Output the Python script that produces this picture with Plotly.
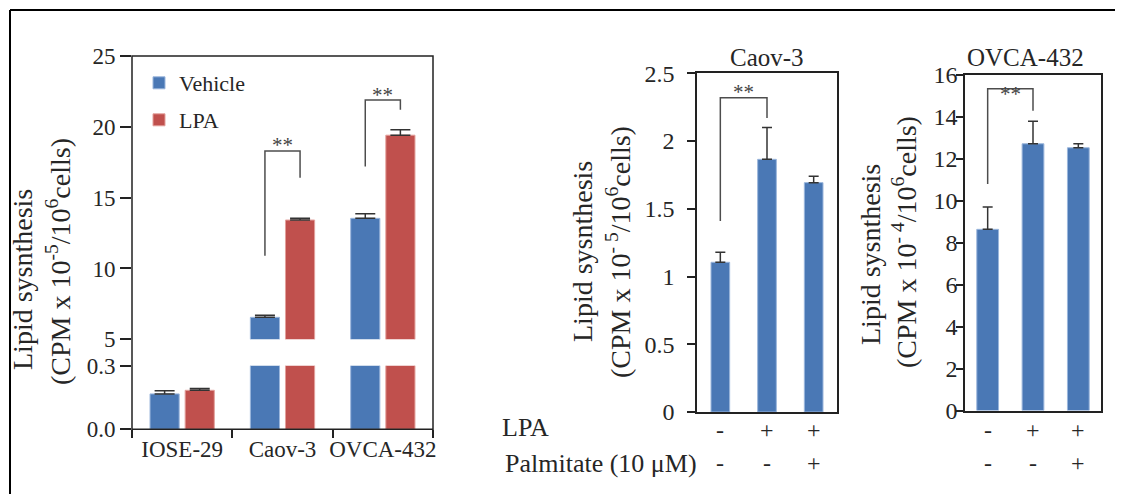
import plotly.graph_objects as go

# page is 1123x502; the html body adds an 8px margin, so the figure is drawn
# 16px smaller and all pixel positions are measured from the page corner.
PAGE_W, PAGE_H = 1123, 502
OFF = 8
FW, FH = PAGE_W - 2 * OFF, PAGE_H - 2 * OFF
FONT = "Liberation Serif"
TXT = "#262626"
LINE = "#222222"
BLUE = "#4a78b5"
RED = "#c0504d"

# ---------------- data ----------------
cell_lines = ["IOSE-29", "Caov-3", "OVCA-432"]
vehicle_vals = [0.167, 6.55, 13.54]
vehicle_err = [0.015, 0.14, 0.33]
lpa_vals = [0.184, 13.42, 19.41]
lpa_err = [0.008, 0.12, 0.38]

treatments = ["t1", "t2", "t3"]
lpa_signs = ["-", "+", "+"]
palm_signs = ["-", "-", "+"]
caov_vals = [1.105, 1.865, 1.693]
caov_err = [0.075, 0.235, 0.047]
ovca_vals = [8.64, 12.72, 12.53]
ovca_err = [1.06, 1.08, 0.19]

upper_ticks = [5, 10, 15, 20, 25]
lower_ticks = [0.0, 0.3]
lower_ticklabels = ["0.0", "0.3"]
caov_ticks = [0, 0.5, 1, 1.5, 2, 2.5]
caov_ticklabels = ["0", "0.5", "1", "1.5", "2", "2.5"]
ovca_ticks = [0, 2, 4, 6, 8, 10, 12, 14, 16]

# significance brackets: left-leg bottom, top, right-leg bottom, star level
left_brackets = [(1, 10.9, 18.3, 16.4, 18.70), (2, 17.2, 21.9, 21.2, 22.27)]
caov_bracket = (0, 1, 1.41, 2.32, 2.17, 2.36)
ovca_bracket = (0, 1, 10.8, 15.35, 14.3, 15.1)


def px(x):
    return (x - OFF) / FW


def py(y):
    return 1 - (y - OFF) / FH


BARGAP, GROUPGAP = 0.30, 0.17
half_off = (1 - BARGAP) / 4  # offset of grouped bar centres

fig = go.Figure()

err_style = dict(type="data", symmetric=False, color="#333333", thickness=1.5)

for yax, show in (("y", False), ("y2", True)):
    fig.add_trace(go.Bar(
        x=cell_lines, y=vehicle_vals, name="Vehicle", xaxis="x", yaxis=yax,
        marker=dict(color=BLUE, line=dict(color="#9bb6dc", width=1)),
        error_y=dict(array=vehicle_err, arrayminus=[0] * 3, width=10, **err_style),
        showlegend=show, legend="legend"))
    fig.add_trace(go.Bar(
        x=cell_lines, y=lpa_vals, name="LPA", xaxis="x", yaxis=yax,
        marker=dict(color=RED, line=dict(color="#e3a09c", width=1)),
        error_y=dict(array=lpa_err, arrayminus=[0] * 3, width=10, **err_style),
        showlegend=show, legend="legend2"))

fig.add_trace(go.Bar(
    x=treatments, y=caov_vals, xaxis="x3", yaxis="y3", width=0.4, showlegend=False,
    marker=dict(color=BLUE, line=dict(color="#9bb6dc", width=1)),
    error_y=dict(array=caov_err, arrayminus=[0] * 3, width=5, **err_style)))
fig.add_trace(go.Bar(
    x=treatments, y=ovca_vals, xaxis="x4", yaxis="y4", width=0.48, showlegend=False,
    marker=dict(color=BLUE, line=dict(color="#9bb6dc", width=1)),
    error_y=dict(array=ovca_err, arrayminus=[0] * 3, width=5, **err_style)))

tickfont = dict(family=FONT, size=23, color=TXT)
tickfont_r = dict(family=FONT, size=24, color=TXT)
common_y = dict(showgrid=False, zeroline=False, ticks="outside", tickcolor=LINE,
                tickwidth=1.5, automargin=False)

# panel geometry (page pixels)
L_x0, L_x1 = 132, 433
L_low_bot, L_low_top = 429.3, 365.7
L_up_bot, L_up_top = 339.3, 56
C_x0, C_x1, C_bot, C_top = 697, 837, 412, 73.3
O_x0, O_x1, O_bot, O_top = 965, 1101, 410.5, 75

fig.update_layout(
    template="none",
    width=FW, height=FH, margin=dict(l=0, r=0, t=0, b=0, autoexpand=False),
    paper_bgcolor="white", plot_bgcolor="white",
    barmode="group", bargap=BARGAP, bargroupgap=GROUPGAP,
    font=dict(family=FONT, color=TXT),
    xaxis=dict(domain=[px(L_x0), px(L_x1)], anchor="y", showgrid=False,
               ticks="outside", tickson="boundaries", ticklen=8, tickwidth=1.5,
               tickcolor=LINE, tickfont=tickfont, showline=False, tickangle=0,
               ticklabelstandoff=4, automargin=False),
    yaxis=dict(domain=[py(L_low_bot), py(L_low_top)], anchor="x", range=[0, 0.3],
               tickvals=lower_ticks, ticktext=lower_ticklabels, ticklen=11,
               tickfont=tickfont, **common_y),
    yaxis2=dict(domain=[py(L_up_bot), py(L_up_top)], anchor="x", range=[5, 25],
                tickvals=upper_ticks, ticklen=11, tickfont=tickfont, **common_y),
    xaxis3=dict(domain=[px(C_x0), px(C_x1)], anchor="y3", showgrid=False,
                showticklabels=False, ticks="", showline=True, mirror=True,
                linecolor=LINE, linewidth=1.5, automargin=False),
    yaxis3=dict(domain=[py(C_bot), py(C_top)], anchor="x3", range=[0, 2.5],
                tickvals=caov_ticks, ticktext=caov_ticklabels, ticklen=8,
                ticklabelstandoff=8, showline=True, mirror=True, linecolor=LINE,
                linewidth=1.5, tickfont=tickfont_r, **common_y),
    xaxis4=dict(domain=[px(O_x0), px(O_x1)], anchor="y4", showgrid=False,
                showticklabels=False, ticks="", showline=True, mirror=True,
                linecolor=LINE, linewidth=1.5, automargin=False),
    yaxis4=dict(domain=[py(O_bot), py(O_top)], anchor="x4", range=[0, 16],
                tickvals=ovca_ticks, ticklen=7, ticklabelstandoff=-6, showline=True,
                mirror=True, linecolor=LINE, linewidth=1.5, tickfont=tickfont_r,
                **common_y),
    legend=dict(x=px(139), y=py(83), xanchor="left", yanchor="middle",
                bgcolor="rgba(0,0,0,0)", font=dict(family=FONT, size=22, color=TXT)),
    legend2=dict(x=px(139), y=py(120), xanchor="left", yanchor="middle",
                 bgcolor="rgba(0,0,0,0)", font=dict(family=FONT, size=22, color=TXT)),
)

shapes = []
# left panel frame (continuous through the axis break)
shapes.append(dict(type="rect", xref="x domain", yref="paper", x0=0, x1=1,
                   y0=py(L_low_bot), y1=py(L_up_top), line=dict(color=LINE, width=1.5)))
# outer border (left and top)
shapes.append(dict(type="line", xref="paper", yref="paper", x0=px(10), x1=px(10),
                   y0=py(10), y1=0, line=dict(color="black", width=2)))
shapes.append(dict(type="line", xref="paper", yref="paper", x0=px(10), x1=1,
                   y0=py(10), y1=py(10), line=dict(color="black", width=2)))

BR = dict(color="#4d4d4d", width=1.5)
annotations = []


def bracket(xl, xr, yl, top, yr, xref, yref, ystar, xstar):
    shapes.append(dict(type="path", xref=xref, yref=yref, line=BR,
                       path=f"M {xl},{yl} L {xl},{top} L {xr},{top} L {xr},{yr}"))
    annotations.append(dict(x=xstar, y=ystar, xref=xref, yref=yref, text="**",
                            showarrow=False, xanchor="center", yanchor="middle",
                            font=dict(family=FONT, size=21, color="#444444")))


for ci, yl, top, yr, ys in left_brackets:
    bracket(ci - half_off, ci + half_off, yl, top, yr, "x", "y2", ys, ci)
i0, i1, yl, top, yr, ys = caov_bracket
bracket(i0, i1, yl, top, yr, "x3", "y3", ys, (i0 + i1) / 2)
i0, i1, yl, top, yr, ys = ovca_bracket
bracket(i0, i1, yl, top, yr, "x4", "y4", ys, (i0 + i1) / 2)

# y axis titles (two lines each)
lab_font = dict(family=FONT, size=28, color=TXT)
for xline1, xline2, yc1, yc2, exp in ((22, 59, 280, 262, "-5"),
                                      (582, 618, 252, 252, "- 5"),
                                      (871, 905, 255, 242, "- 4")):
    annotations.append(dict(x=px(xline1), y=py(yc1), xref="paper", yref="paper",
                            text="Lipid sysnthesis", textangle=-90, showarrow=False,
                            xanchor="center", yanchor="middle", font=lab_font))
    annotations.append(dict(x=px(xline2), y=py(yc2), xref="paper", yref="paper",
                            text=f"(CPM x 10<sup>{exp}</sup>/10<sup>6</sup>cells)",
                            textangle=-90, showarrow=False,
                            xanchor="center", yanchor="middle", font=lab_font))

# panel titles
title_font = dict(family=FONT, size=25, color=TXT)
annotations.append(dict(x=px(767), y=py(58), xref="paper", yref="paper", text="Caov-3",
                        showarrow=False, xanchor="center", yanchor="middle",
                        font=title_font))
annotations.append(dict(x=px(1025), y=py(58), xref="paper", yref="paper",
                        text="OVCA-432", showarrow=False, xanchor="center",
                        yanchor="middle", font=title_font))

# treatment rows
row_font = dict(family=FONT, size=26, color=TXT)
sign_font = dict(family=FONT, size=24, color=TXT)
annotations.append(dict(x=px(500), y=py(427), xref="paper", yref="paper", text="LPA",
                        showarrow=False, xanchor="left", yanchor="middle",
                        font=row_font))
annotations.append(dict(x=px(503), y=py(463), xref="paper", yref="paper",
                        text="Palmitate (10 μM)", showarrow=False, xanchor="left",
                        yanchor="middle", font=row_font))
for xr in ("x3", "x4"):
    for i in range(len(treatments)):
        annotations.append(dict(x=i, y=py(430), xref=xr, yref="paper", text=lpa_signs[i],
                                showarrow=False, xanchor="center", yanchor="middle",
                                font=sign_font))
        annotations.append(dict(x=i, y=py(463), xref=xr, yref="paper", text=palm_signs[i],
                                showarrow=False, xanchor="center", yanchor="middle",
                                font=sign_font))

fig.update_layout(shapes=shapes, annotations=annotations)
fig.write_html("out.html")
